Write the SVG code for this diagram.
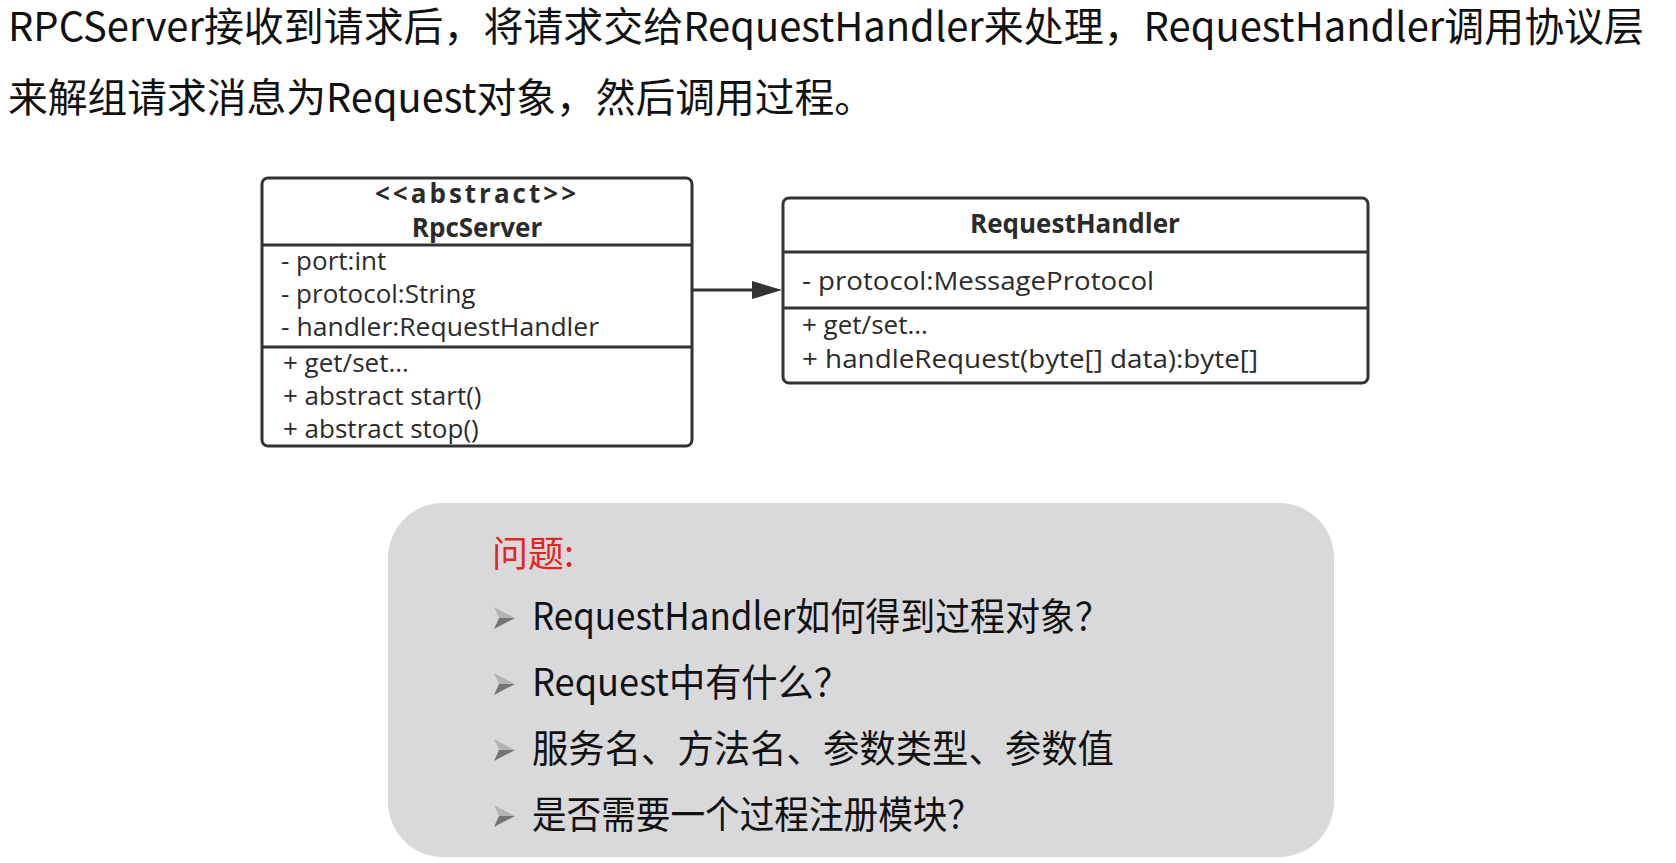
<svg xmlns="http://www.w3.org/2000/svg" width="1676" height="863" viewBox="0 0 1676 863">
  <style>
    .title { font-family: "Noto Sans CJK SC", "Noto Sans", sans-serif; font-size: 40px; fill: #111; }
    .box { fill: #fff; stroke: #333; stroke-width: 3; }
    .div { stroke: #333; stroke-width: 3; }
    .uml { font-family: "Open Sans", "Noto Sans", sans-serif; font-size: 26px; fill: #2b2b2b; }
    .umlb { font-family: "Open Sans", "Noto Sans", sans-serif; font-size: 26px; font-weight: bold; fill: #2b2b2b; text-anchor: middle; }
    .note { fill: #d9d9db; }
    .q { font-family: "Noto Sans CJK SC", sans-serif; font-size: 38px; fill: #111; }
    .qt { font-family: "Noto Sans CJK SC", sans-serif; font-size: 36px; fill: #e5261c; }
    .bl { fill: #b4b4b4; }
    .bd { fill: #747474; }
  </style>
  <defs>
    <g id="bullet">
      <polygon class="bl" points="0,-11 21,0 5,0"/>
      <polygon class="bd" points="0,11 21,0 5,0"/>
    </g>
  </defs>
  <rect width="1676" height="863" fill="#fff"/>

  <g id="title">
    <text class="title" x="8" y="41" textLength="1636" lengthAdjust="spacingAndGlyphs">RPCServer接收到请求后，将请求交给RequestHandler来处理，RequestHandler调用协议层</text>
    <text class="title" x="8" y="112" textLength="866" lengthAdjust="spacingAndGlyphs">来解组请求消息为Request对象，然后调用过程。</text>
  </g>

  <g id="connectors">
    <line x1="692" y1="290" x2="755" y2="290" stroke="#333" stroke-width="3"/>
    <polygon points="752,281 782,290 752,299" fill="#333"/>
  </g>

  <g id="rpcserver">
    <rect class="box" x="262" y="178" width="430" height="268" rx="6"/>
    <line class="div" x1="262" y1="245" x2="692" y2="245"/>
    <line class="div" x1="262" y1="347" x2="692" y2="347"/>
    <text class="umlb" x="477" y="203" letter-spacing="3">&lt;&lt;abstract&gt;&gt;</text>
    <text class="umlb" x="477" y="237">RpcServer</text>
    <text class="uml" x="281" y="270">- port:int</text>
    <text class="uml" x="281" y="303">- protocol:String</text>
    <text class="uml" x="281" y="336" textLength="318" lengthAdjust="spacingAndGlyphs">- handler:RequestHandler</text>
    <text class="uml" x="283" y="372">+ get/set...</text>
    <text class="uml" x="283" y="405">+ abstract start()</text>
    <text class="uml" x="283" y="438">+ abstract stop()</text>
  </g>

  <g id="requesthandler">
    <rect class="box" x="783" y="198" width="585" height="185" rx="6"/>
    <line class="div" x1="783" y1="252" x2="1368" y2="252"/>
    <line class="div" x1="783" y1="308" x2="1368" y2="308"/>
    <text class="umlb" x="1075" y="233">RequestHandler</text>
    <text class="uml" x="802" y="290" textLength="352" lengthAdjust="spacingAndGlyphs">- protocol:MessageProtocol</text>
    <text class="uml" x="802" y="334">+ get/set...</text>
    <text class="uml" x="802" y="368" textLength="456" lengthAdjust="spacingAndGlyphs">+ handleRequest(byte[] data):byte[]</text>
  </g>

  <g id="note">
    <rect class="note" x="388" y="503" width="946" height="354" rx="55"/>
    <text class="qt" x="492" y="567">问题:</text>
    <use href="#bullet" x="494" y="618"/>
    <text class="q" x="532" y="630" textLength="578" lengthAdjust="spacingAndGlyphs">RequestHandler如何得到过程对象？</text>
    <use href="#bullet" x="494" y="684"/>
    <text class="q" x="532" y="696" textLength="318" lengthAdjust="spacingAndGlyphs">Request中有什么？</text>
    <use href="#bullet" x="494" y="750"/>
    <text class="q" x="532" y="762" textLength="582" lengthAdjust="spacingAndGlyphs">服务名、方法名、参数类型、参数值</text>
    <use href="#bullet" x="494" y="816"/>
    <text class="q" x="532" y="828" textLength="450" lengthAdjust="spacingAndGlyphs">是否需要一个过程注册模块？</text>
  </g>
</svg>
